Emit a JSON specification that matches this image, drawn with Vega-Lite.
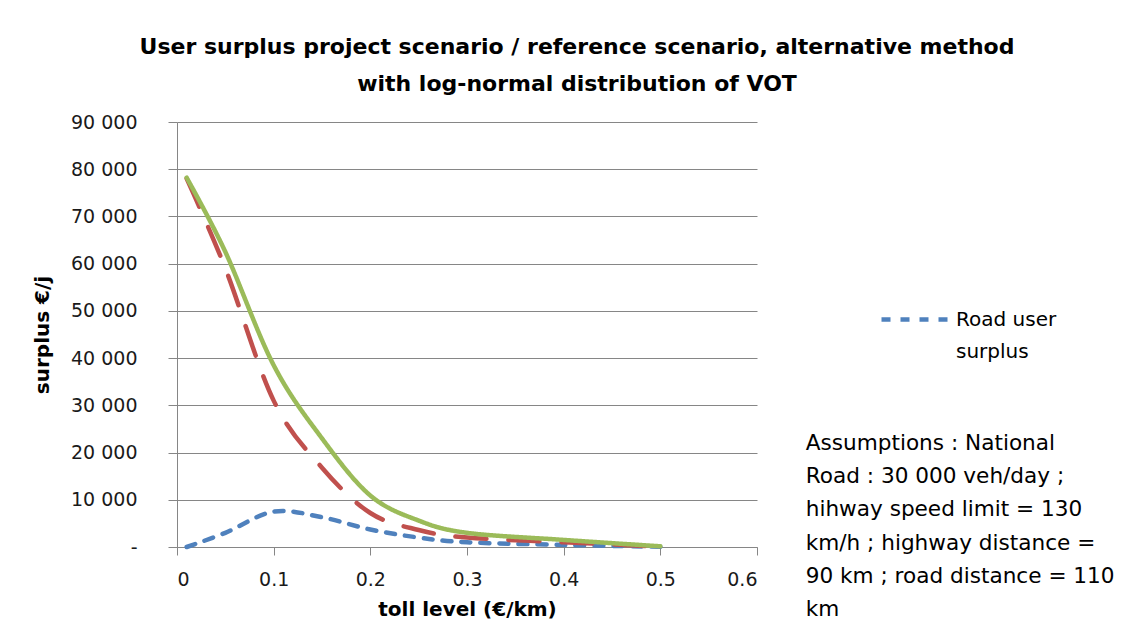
{
  "$schema": "https://vega.github.io/schema/vega-lite/v6.json",
  "autosize": {"type": "none"},
  "padding": {"left": 177, "top": 122, "right": 378, "bottom": 79},
  "width": 580,
  "height": 425,
  "background": "#ffffff",
  "title": {
    "text": ["User surplus project scenario / reference scenario, alternative method", "with log-normal distribution of VOT"],
    "font": "DejaVu Sans",
    "fontSize": 22,
    "fontWeight": "bold",
    "color": "#000000",
    "anchor": "middle",
    "dx": 110,
    "lineHeight": 36.7,
    "offset": 17
  },
  "config": {
    "view": {"stroke": null},
    "font": "DejaVu Sans",
    "axis": {
      "domainColor": "#868686",
      "tickColor": "#868686",
      "gridColor": "#868686",
      "labelFont": "DejaVu Sans",
      "labelFontSize": 19,
      "labelColor": "#1a1a1a",
      "titleFont": "DejaVu Sans",
      "titleFontSize": 20,
      "titleFontWeight": "bold",
      "titleColor": "#000000"
    }
  },
  "layer": [
    {
      "data": {
        "values": [
          {"toll": 0.01, "surplus": 0, "series": "Road user surplus"},
          {"toll": 0.05, "surplus": 3000, "series": "Road user surplus"},
          {"toll": 0.1, "surplus": 7500, "series": "Road user surplus"},
          {"toll": 0.15, "surplus": 6300, "series": "Road user surplus"},
          {"toll": 0.2, "surplus": 3700, "series": "Road user surplus"},
          {"toll": 0.25, "surplus": 2000, "series": "Road user surplus"},
          {"toll": 0.3, "surplus": 1000, "series": "Road user surplus"},
          {"toll": 0.4, "surplus": 450, "series": "Road user surplus"},
          {"toll": 0.5, "surplus": 50, "series": "Road user surplus"},
          {"toll": 0.01, "surplus": 78000, "series": "Highway user surplus"},
          {"toll": 0.05, "surplus": 59000, "series": "Highway user surplus"},
          {"toll": 0.1, "surplus": 31000, "series": "Highway user surplus"},
          {"toll": 0.15, "surplus": 16800, "series": "Highway user surplus"},
          {"toll": 0.2, "surplus": 7200, "series": "Highway user surplus"},
          {"toll": 0.25, "surplus": 3600, "series": "Highway user surplus"},
          {"toll": 0.3, "surplus": 2000, "series": "Highway user surplus"},
          {"toll": 0.4, "surplus": 1000, "series": "Highway user surplus"},
          {"toll": 0.5, "surplus": 100, "series": "Highway user surplus"},
          {"toll": 0.01, "surplus": 78200, "series": "Total user surplus"},
          {"toll": 0.05, "surplus": 62500, "series": "Total user surplus"},
          {"toll": 0.1, "surplus": 38500, "series": "Total user surplus"},
          {"toll": 0.15, "surplus": 23000, "series": "Total user surplus"},
          {"toll": 0.2, "surplus": 10900, "series": "Total user surplus"},
          {"toll": 0.25, "surplus": 5600, "series": "Total user surplus"},
          {"toll": 0.3, "surplus": 3000, "series": "Total user surplus"},
          {"toll": 0.4, "surplus": 1500, "series": "Total user surplus"},
          {"toll": 0.5, "surplus": 150, "series": "Total user surplus"}
        ]
      },
      "mark": {"type": "line", "interpolate": "cardinal", "strokeWidth": 4.5, "strokeCap": "round"},
      "encoding": {
        "x": {
          "field": "toll",
          "type": "quantitative",
          "scale": {"domain": [0, 0.6], "nice": false},
          "axis": {
            "title": "toll level (€/km)",
            "values": [0, 0.1, 0.2, 0.3, 0.4, 0.5, 0.6],
            "labelExpr": "datum.value == 0 ? '0' : format(datum.value, '.1f')",
            "grid": false,
            "tickSize": 8,
            "labelPadding": 15,
            "titlePadding": 10
          }
        },
        "y": {
          "field": "surplus",
          "type": "quantitative",
          "scale": {"domain": [0, 90000], "nice": false},
          "axis": {
            "title": "surplus €/j",
            "values": [0, 10000, 20000, 30000, 40000, 50000, 60000, 70000, 80000, 90000],
            "labelExpr": "datum.value == 0 ? '-\u2007' : replace(format(datum.value, ',d'), ',', '\u00a0')",
            "grid": true,
            "tickSize": 9,
            "labelPadding": 31,
            "titlePadding": 18
          }
        },
        "color": {
          "field": "series",
          "type": "nominal",
          "scale": {
            "domain": ["Road user surplus", "Highway user surplus", "Total user surplus"],
            "range": ["#4f81bd", "#c0504d", "#9bbb59"]
          },
          "legend": {
            "values": ["Road user surplus"],
            "title": null,
            "orient": "none",
            "legendX": 702,
            "legendY": 161,
            "padding": 0,
            "symbolType": "stroke",
            "symbolSize": 4624,
            "symbolStrokeWidth": 4.5,
            "labelFont": "DejaVu Sans",
            "labelFontSize": 20,
            "labelColor": "#000000",
            "labelOffset": 4,
            "labelLimit": 300,
            "labelExpr": "datum.label == 'Road user surplus' ? ['Road user', 'surplus'] : datum.label",
            "encode": {"labels": {"update": {"lineHeight": {"value": 32}}}}
          }
        },
        "strokeDash": {
          "field": "series",
          "type": "nominal",
          "scale": {
            "domain": ["Road user surplus", "Highway user surplus", "Total user surplus"],
            "range": [[9, 10], [31, 22], [1, 0]]
          },
          "legend": {
            "values": ["Road user surplus"],
            "title": null,
            "orient": "none",
            "legendX": 702,
            "legendY": 161,
            "padding": 0,
            "symbolType": "stroke",
            "symbolSize": 4624,
            "symbolStrokeWidth": 4.5,
            "labelFont": "DejaVu Sans",
            "labelFontSize": 20,
            "labelColor": "#000000",
            "labelOffset": 4,
            "labelLimit": 300,
            "labelExpr": "datum.label == 'Road user surplus' ? ['Road user', 'surplus'] : datum.label",
            "encode": {"labels": {"update": {"lineHeight": {"value": 32}}}}
          }
        }
      }
    },
    {
      "data": {
        "values": [
          {"note": "Assumptions : National\nRoad : 30 000 veh/day ;\nhihway speed limit = 130\nkm/h ; highway distance =\n90 km ; road distance = 110\nkm"}
        ]
      },
      "mark": {
        "type": "text",
        "align": "left",
        "baseline": "alphabetic",
        "lineBreak": "\n",
        "lineHeight": 33.3,
        "font": "DejaVu Sans",
        "fontSize": 21.6,
        "color": "#000000"
      },
      "encoding": {
        "x": {"datum": 0.6504, "type": "quantitative"},
        "y": {"datum": 20600, "type": "quantitative"},
        "text": {"field": "note", "type": "nominal"}
      }
    }
  ]
}
